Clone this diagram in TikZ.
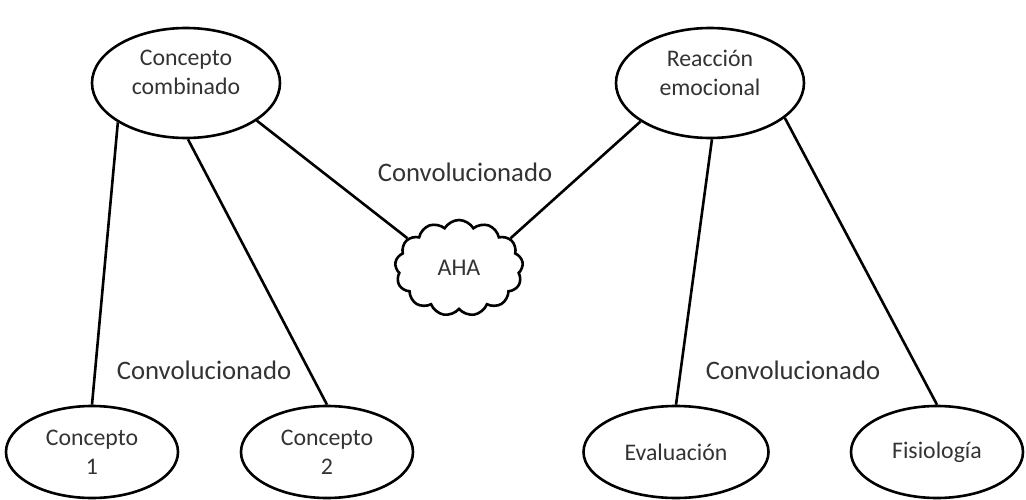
\documentclass[tikz,border=0pt]{standalone}
\usepackage{fontspec}
\setmainfont{Carlito}
\usepackage{tikz}
\usetikzlibrary{
  shapes,
  shapes.geometric,
  shapes.symbols,
  positioning
}
\definecolor{ahInk}{HTML}{000000}
\definecolor{ahText}{HTML}{333333}
\tikzset{
  ahnode/.style={
    draw=ahInk, ellipse, line width=2.6pt, inner sep=0pt, align=center,
    font=\fontsize{23.8}{29}\selectfont, text=ahText
  },
  topnode/.style={ahnode, minimum width=188pt, minimum height=110pt},
  leafnode/.style={ahnode, minimum width=172pt, minimum height=92pt},
  ahcloud/.style={
    draw=ahInk, cloud, cloud puffs=13, cloud puff arc=120, cloud ignores aspect,
    line width=2.6pt, minimum width=128pt, minimum height=96pt, inner sep=0pt,
    font=\fontsize{24}{28}\selectfont, text=ahText
  },
  link/.style={line width=2.6pt, ahInk},
  tag/.style={font=\fontsize{26.7}{32}\selectfont, text=ahText, inner sep=1pt}
}
\begin{document}
\begin{tikzpicture}[x=1pt, y=-1pt]
  \useasboundingbox (0,0) rectangle (1026,500);
  % upper concepts (text sits a bit high in the ellipse)
  \node[topnode] (comb) at (186,83) {Concepto\\combinado\\[-8pt]\mbox{}};
  \node[topnode] (emo) at (710,83) {Reacción\\emocional\\[-8pt]\mbox{}};
  % cloud in the middle
  \node[ahcloud] (aha) at (459,268) {AHA};
  % leaves
  \node[leafnode] (c1) at (92,452) {Concepto\\1};
  \node[leafnode] (c2) at (327,452) {Concepto\\2};
  \node[leafnode, minimum width=185pt] (eval) at (676,452) {Evaluación};
  \node[leafnode] (fisio) at (937,452) {Fisiología};
  % links
  \draw[link] (comb.-150) -- (c1.north);
  \draw[link] (comb.-88) -- (c2.north);
  \draw[link] (comb.-28) -- (aha.150);
  \draw[link] (emo.-151) -- (aha.30);
  \draw[link] (emo.-88) -- (eval.north);
  \draw[link] (emo.-25) -- (fisio.north);
  % labels
  \node[tag] (convtop) at (465,172) {Convolucionado};
  \node[tag] (convleft) at (204,370) {Convolucionado};
  \node[tag] (convright) at (793,370) {Convolucionado};
\end{tikzpicture}
\end{document}
